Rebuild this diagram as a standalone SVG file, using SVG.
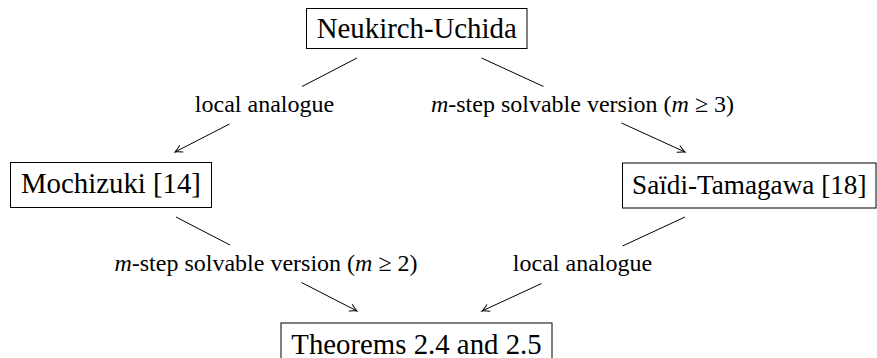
<svg xmlns="http://www.w3.org/2000/svg" width="877" height="358" viewBox="0 0 877 358">
<style>
.box{fill:#fff;stroke:#000;stroke-width:1}
.nt{font-family:"Liberation Serif","Times New Roman",serif;font-size:28.8px;fill:#000;text-anchor:middle}
.lt{font-family:"Liberation Serif","Times New Roman",serif;font-size:24px;fill:#000;text-anchor:middle}
.e{stroke:#000;stroke-width:1;fill:none}
</style>
<defs>
<marker id="to" markerUnits="userSpaceOnUse" markerWidth="12" markerHeight="12" refX="0" refY="0" viewBox="-9 -6 10 12" orient="auto" overflow="visible">
<path d="M-7,-3.6 Q-2.2,-0.6 0,0 Q-2.2,0.6 -7,3.6" fill="none" stroke="#000" stroke-width="1" stroke-linecap="round"/>
</marker>
</defs>
<rect width="877" height="358" fill="#fff"/>
<g id="connectors">
<line class="e" x1="357" y1="58" x2="302" y2="86.5"/>
<line class="e" x1="229.5" y1="124" x2="175" y2="152" marker-end="url(#to)"/>
<line class="e" x1="481.5" y1="58" x2="543.5" y2="86.5"/>
<line class="e" x1="621.5" y1="123" x2="685" y2="152" marker-end="url(#to)"/>
<line class="e" x1="176" y1="217" x2="230" y2="245"/>
<line class="e" x1="301.5" y1="282.5" x2="357" y2="311" marker-end="url(#to)"/>
<line class="e" x1="685" y1="217" x2="622.5" y2="246"/>
<line class="e" x1="541.5" y1="283.5" x2="482" y2="311" marker-end="url(#to)"/>
<text class="lt" x="264.5" y="112">local analogue</text>
<text class="lt" x="582.5" y="112"><tspan font-style="italic">m</tspan>-step solvable version (<tspan font-style="italic">m</tspan> ≥ 3)</text>
<text class="lt" x="266" y="271"><tspan font-style="italic">m</tspan>-step solvable version (<tspan font-style="italic">m</tspan> ≥ 2)</text>
<text class="lt" x="582.5" y="271">local analogue</text>
</g>
<g id="neukirch">
<rect class="box" x="306.5" y="8.5" width="220.5" height="40"/>
<text class="nt" x="416.75" y="38">Neukirch-Uchida</text>
</g>
<g id="mochizuki">
<rect class="box" x="10.5" y="162.5" width="201" height="45"/>
<text class="nt" x="111" y="192.5">Mochizuki [14]</text>
</g>
<g id="saidi">
<rect class="box" x="622.5" y="163" width="253.5" height="45"/>
<text class="nt" x="749.25" y="193.5" style="font-size:27.2px">Saïdi-Tamagawa [18]</text>
</g>
<g id="theorems">
<rect class="box" x="281" y="323" width="271" height="45"/>
<text class="nt" x="416.5" y="353.5">Theorems 2.4 and 2.5</text>
</g>
</svg>
